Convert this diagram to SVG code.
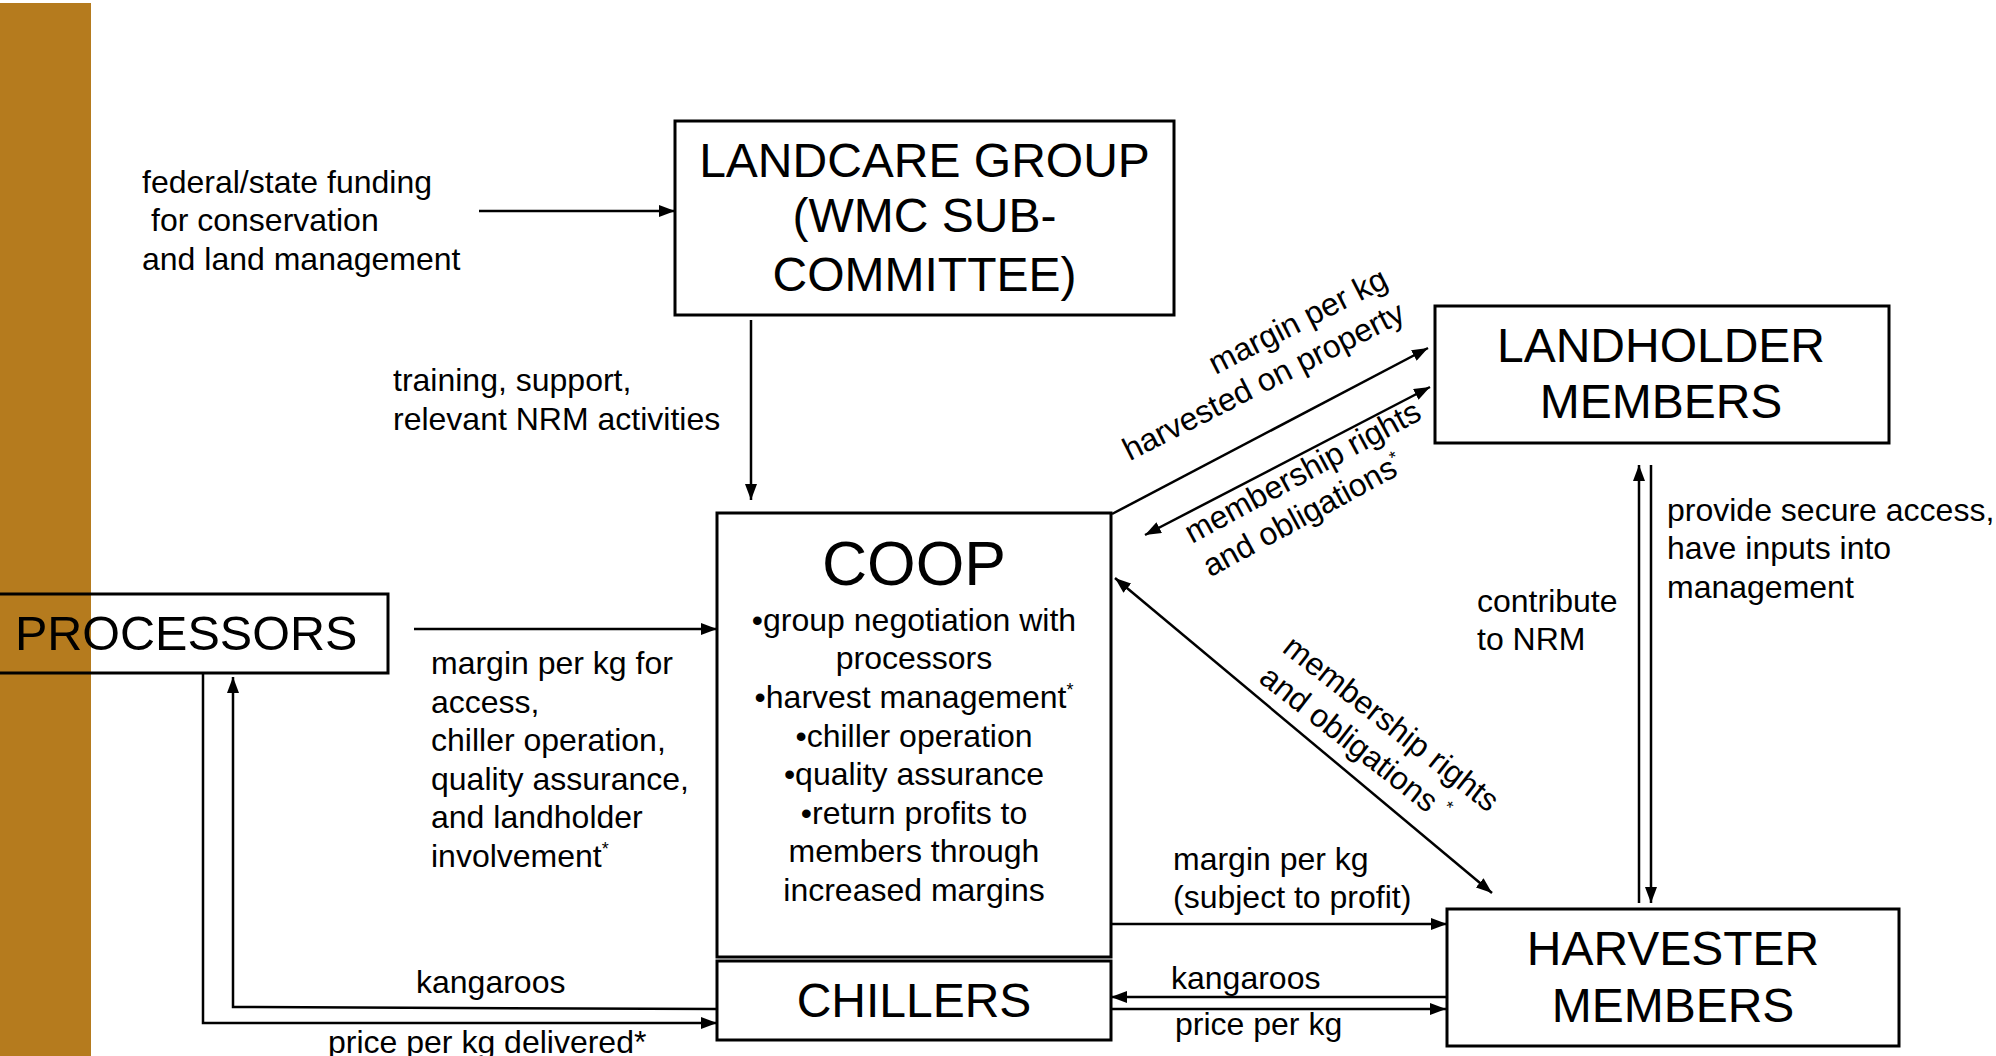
<svg xmlns="http://www.w3.org/2000/svg" width="1996" height="1056" viewBox="0 0 1996 1056">
<style>
.box{fill:none;stroke:#000;stroke-width:3}
.ln{fill:none;stroke:#000;stroke-width:2.5}
text{font-family:"Liberation Sans",Arial,sans-serif;fill:#000}
.lbl{font-size:32px}
.ttl{font-size:48px;text-anchor:middle}
.body{font-size:32px;text-anchor:middle}
.sup{font-size:18px}
</style>
<defs>
<marker id="arr" viewBox="0 0 16 12" refX="16" refY="6" markerWidth="16" markerHeight="12" markerUnits="userSpaceOnUse" orient="auto-start-reverse">
<path d="M0,0 L16,6 L0,12 z" fill="#000"/>
</marker>
</defs>
<rect x="0" y="3" width="91" height="1053" fill="#B57B1E"/>

<g id="connectors">
<path class="ln" d="M479,211 L675,211" marker-end="url(#arr)"/>
<path class="ln" d="M751,320 L751,500" marker-end="url(#arr)"/>
<path class="ln" d="M414,629 L717,629" marker-end="url(#arr)"/>
<path class="ln" d="M203,673 L203,1023 L717,1023" marker-end="url(#arr)"/>
<path class="ln" d="M717,1009 L233,1007 L233,677" marker-end="url(#arr)"/>
<path class="ln" d="M1112,514 L1428,348" marker-end="url(#arr)"/>
<path class="ln" d="M1145,535 L1430,387" marker-start="url(#arr)" marker-end="url(#arr)"/>
<path class="ln" d="M1115,578 L1492,893" marker-start="url(#arr)" marker-end="url(#arr)"/>
<path class="ln" d="M1111,924 L1447,924" marker-end="url(#arr)"/>
<path class="ln" d="M1446,997 L1111,997" marker-end="url(#arr)"/>
<path class="ln" d="M1111,1009 L1446,1009" marker-end="url(#arr)"/>
<path class="ln" d="M1639,903 L1639,465" marker-end="url(#arr)"/>
<path class="ln" d="M1651,465 L1651,903" marker-end="url(#arr)"/>
</g>

<g id="landcare">
<rect class="box" x="675" y="121" width="499" height="194"/>
<text class="ttl" x="924.5" y="177">LANDCARE GROUP</text>
<text class="ttl" x="924.5" y="232">(WMC SUB-</text>
<text class="ttl" x="924.5" y="291">COMMITTEE)</text>
</g>

<g id="landholder">
<rect class="box" x="1435" y="306" width="454" height="137"/>
<text class="ttl" x="1661" y="362">LANDHOLDER</text>
<text class="ttl" x="1661" y="418">MEMBERS</text>
</g>

<g id="harvester">
<rect class="box" x="1447" y="909" width="452" height="137"/>
<text class="ttl" x="1673" y="965">HARVESTER</text>
<text class="ttl" x="1673" y="1022">MEMBERS</text>
</g>

<g id="processors">
<rect class="box" x="-5" y="594" width="393" height="79"/>
<text x="15" y="650" style="font-size:48.5px">PROCESSORS</text>
</g>

<g id="coop">
<rect class="box" x="717" y="513" width="394" height="444"/>
<text x="914" y="585" style="font-size:62.5px;text-anchor:middle">COOP</text>
<text class="body" x="914" y="631">•group negotiation with</text>
<text class="body" x="914" y="669">processors</text>
<text class="body" x="914" y="708">•harvest management<tspan class="sup" dy="-12">*</tspan></text>
<text class="body" x="914" y="747">•chiller operation</text>
<text class="body" x="914" y="785">•quality assurance</text>
<text class="body" x="914" y="824">•return profits to</text>
<text class="body" x="914" y="862">members through</text>
<text class="body" x="914" y="901">increased margins</text>
</g>

<g id="chillers">
<rect class="box" x="717" y="961" width="394" height="79"/>
<text class="ttl" x="914" y="1017">CHILLERS</text>
</g>

<g id="labels">
<text class="lbl" x="142" y="193">federal/state funding</text>
<text class="lbl" x="151" y="231">for conservation</text>
<text class="lbl" x="142" y="270">and land management</text>
<text class="lbl" x="393" y="391">training, support,</text>
<text class="lbl" x="393" y="430">relevant NRM activities</text>
<text class="lbl" x="431" y="674">margin per kg for</text>
<text class="lbl" x="431" y="713">access,</text>
<text class="lbl" x="431" y="751">chiller operation,</text>
<text class="lbl" x="431" y="790">quality assurance,</text>
<text class="lbl" x="431" y="828">and landholder</text>
<text class="lbl" x="431" y="867">involvement<tspan class="sup" dy="-12">*</tspan></text>
<text class="lbl" x="416" y="993">kangaroos</text>
<text class="lbl" x="328" y="1053">price per kg delivered*</text>
<text class="lbl" x="1173" y="870">margin per kg</text>
<text class="lbl" x="1173" y="908">(subject to profit)</text>
<text class="lbl" x="1171" y="989">kangaroos</text>
<text class="lbl" x="1175" y="1035">price per kg</text>
<text class="lbl" x="1477" y="612">contribute</text>
<text class="lbl" x="1477" y="650">to NRM</text>
<text class="lbl" x="1667" y="521">provide secure access,</text>
<text class="lbl" x="1667" y="559">have inputs into</text>
<text class="lbl" x="1667" y="598">management</text>
<g transform="translate(1407,320) rotate(-27)">
<text class="lbl" x="0" y="-38" text-anchor="end">margin per kg</text>
<text class="lbl" x="0" y="0" text-anchor="end">harvested on property</text>
</g>
<g transform="translate(1192,544) rotate(-28.5)">
<text class="lbl" x="0" y="0">membership rights</text>
<text class="lbl" x="0" y="38">and obligations<tspan class="sup" dy="-12">*</tspan></text>
</g>
<g transform="translate(1281,651) rotate(38)">
<text class="lbl" x="0" y="0">membership rights</text>
<text class="lbl" x="0" y="38">and obligations <tspan class="sup" dy="-12">*</tspan></text>
</g>
</g>
</svg>
